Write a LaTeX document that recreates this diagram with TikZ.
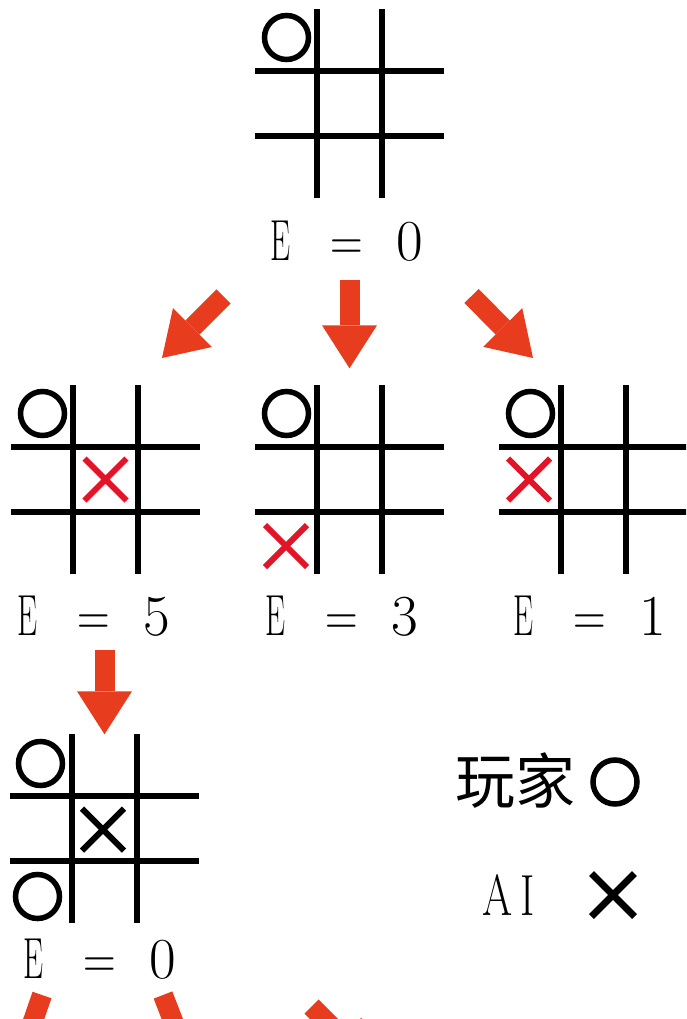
\documentclass[tikz,border=0pt]{standalone}
\usepackage{fontspec}
\newfontfamily\cjk{Noto Sans CJK SC}
\usepackage{graphicx}
\usepackage{tikz}
\usetikzlibrary{positioning, arrows.meta, shapes.misc}
\definecolor{arrowred}{RGB}{232,60,30}
\definecolor{markred}{RGB}{226,20,40}

% the four lines of a tic-tac-toe board around a board node
\newcommand{\tttgrid}[1]{%
  \draw[gridline] ([xshift=-32.5pt]#1.north) -- ([xshift=-32.5pt]#1.south)
                  ([xshift=32.5pt]#1.north) -- ([xshift=32.5pt]#1.south)
                  ([yshift=32.5pt]#1.west) -- ([yshift=32.5pt]#1.east)
                  ([yshift=-32.5pt]#1.west) -- ([yshift=-32.5pt]#1.east);}
% evaluation text, glyphs on fixed centres (node anchored at the E)
\newcommand{\evaltext}[1]{%
  \makebox[0pt]{\scalebox{0.55}[1]{E}}\hspace{67pt}%
  \makebox[0pt]{\scalebox{0.78}[1]{=}}\hspace{62.5pt}%
  \makebox[0pt]{#1}}

\begin{document}
\begin{tikzpicture}[
  x=1pt, y=-1pt,
  board/.style={minimum size=188pt, inner sep=0pt},
  gridline/.style={line width=6pt, black},
  oo/.style={circle, draw=black, line width=5.5pt, minimum size=44pt, inner sep=0pt},
  xx/.style={cross out, draw=black, line width=6pt, minimum size=36pt, inner sep=0pt},
  redx/.style={xx, draw=markred},
  elab/.style={font=\fontsize{58}{58}\selectfont, anchor=base west, inner sep=0pt},
  bigarr/.style={-{Triangle[length=43pt, width=55pt, line width=0pt]}, line width=20pt, draw=arrowred},
]
  \useasboundingbox (0,0) rectangle (686,1019);
  \clip (0,0) rectangle (686,1019);

  % root
  \node[board] (b0) at (349.5,103.5) {};
  \tttgrid{b0}
  \node[oo] (o0) at ([shift={(-63pt,66pt)}]b0.center) {};
  \node[elab] (lab0) at (280,260) {\evaltext{0}};

  % second level
  \node[board] (b1) at (105.5,479.5) {};
  \tttgrid{b1}
  \node[oo] (o1) at ([shift={(-63pt,66pt)}]b1.center) {};
  \node[redx] (x1) at (b1.center) {};
  \node[elab] (lab1) at (27,635) {\evaltext{5}};

  \node[board] (b2) at (349.5,479.5) {};
  \tttgrid{b2}
  \node[oo] (o2) at ([shift={(-63pt,66pt)}]b2.center) {};
  \node[redx] (x2) at ([shift={(-63.5pt,-66.5pt)}]b2.center) {};
  \node[elab] (lab2) at (275,635) {\evaltext{3}};

  \node[board] (b3) at (593.5,479.5) {};
  \tttgrid{b3}
  \node[oo] (o3) at ([shift={(-63pt,66pt)}]b3.center) {};
  \node[redx] (x3) at ([shift={(-64.5pt,0pt)}]b3.center) {};
  \node[elab] (lab3) at (523,635) {\evaltext{1}};

  % third level
  \node[board] (b4) at (104.5,828.5) {};
  \tttgrid{b4}
  \node[oo] (o4a) at ([shift={(-64pt,65pt)}]b4.center) {};
  \node[oo] (o4b) at ([shift={(-67pt,-68pt)}]b4.center) {};
  \node[xx] (x4) at ([shift={(-1.5pt,-1pt)}]b4.center) {};
  \node[elab] (lab4) at (33,978) {\evaltext{0}};

  % legend
  \node[font=\cjk\fontsize{60}{60}\selectfont, anchor=base west, inner sep=0pt] (player) at (455,803) {玩家};
  \node[oo] (player-o) at (615,782) {};
  \node[elab] (ai) at (482,915) {\scalebox{0.75}[1]{A}\hspace{8pt}\scalebox{0.75}[1]{I}};
  \node[xx, line width=7pt] (ai-x) at (613,895) {};

  % arrows
  \coordinate (t1) at (223.5,296.5);
  \coordinate (h1) at (162,358);
  \coordinate (t3) at (471.5,296);
  \coordinate (h3) at (533,358);
  \coordinate (t5) at (42,995);
  \coordinate (h5) at (14,1076);
  \coordinate (t6) at (163,995);
  \coordinate (h6) at (194,1075);
  \coordinate (t7) at (311.5,1006.5);
  \coordinate (h7) at (372.5,1067.5);

  \draw[bigarr] (t1) -- (h1);
  \draw[bigarr, shorten <=19pt, shorten >=17pt] (b2.north |- lab0.south) -- (b2.north);
  \draw[bigarr] (t3) -- (h3);
  \draw[bigarr, shorten <=14pt] (b4.north |- lab1.south) -- (b4.north);
  \draw[bigarr] (t5) -- (h5);
  \draw[bigarr] (t6) -- (h6);
  \draw[bigarr] (t7) -- (h7);
\end{tikzpicture}
\end{document}
